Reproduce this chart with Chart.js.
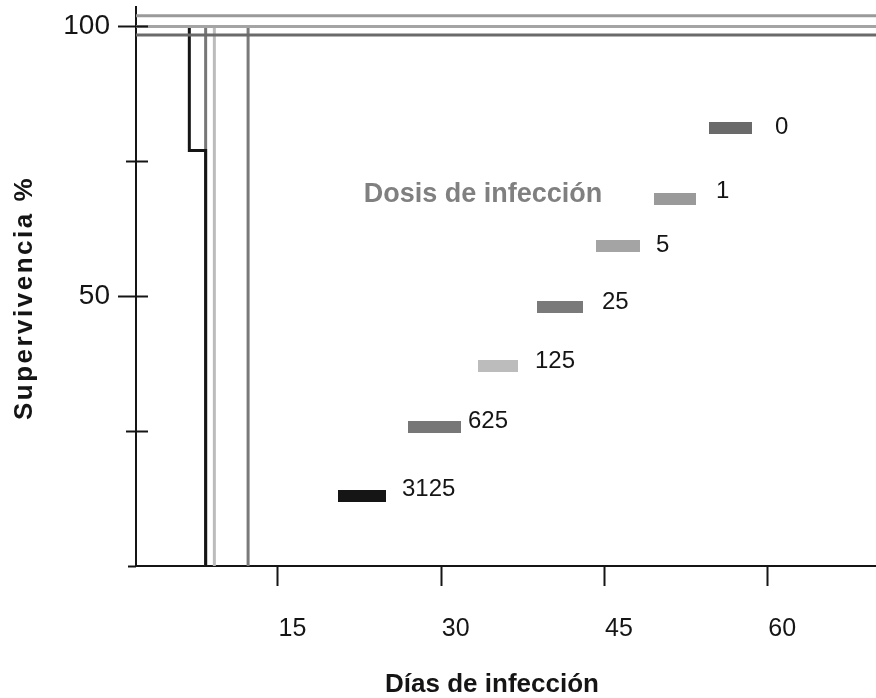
<!DOCTYPE html>
<html>
<head>
<meta charset="utf-8">
<script src="https://cdn.jsdelivr.net/npm/chart.js@4/dist/chart.umd.min.js"></script>
<style>
  html, body { margin: 0; padding: 0; background: #ffffff; }
  #wrap { width: 876px; height: 698px; position: relative; }
</style>
</head>
<body>
<div id="wrap"><canvas id="c" width="876" height="698"></canvas></div>
<script>
// Dosis de infección de cada grupo
const dosis = ['0', '1', '5', '25', '125', '625', '3125'];

// Curvas de supervivencia (día del cambio, % de supervivencia)
const dias0 = [0, 70];          const sup0 = [98.4, 98.4];
const dias1 = [0, 70];          const sup1 = [102, 102];
const dias5 = [0, 70];          const sup5 = [100, 100];
const dias25 = [0, 12.3];       const sup25 = [100, 0];
const dias125 = [0, 9.2];       const sup125 = [100, 0];
const dias625 = [0, 8.4];       const sup625 = [100, 0];
const dias3125 = [0, 6.9, 8.4]; const sup3125 = [100, 77, 0];

// Marcas de los ejes
const xTicks = [15, 30, 45, 60];
const yTicks = [0, 25, 50, 75, 100];
const yLabels = [50, 100];

const FONT = "'Liberation Sans', Arial, sans-serif";
const colores = ['#6a6a6a', '#9a9a9a', '#a4a4a4', '#7a7a7a', '#bcbcbc', '#777777', '#151515'];
const series = [
  [dias0, sup0], [dias1, sup1], [dias5, sup5], [dias25, sup25],
  [dias125, sup125], [dias625, sup625], [dias3125, sup3125]
];
// orden de dibujo: las curvas planas encima, luego la negra
const ordenDibujo = [2, 0, 1, 6, 5, 4, 3];

// Posición de cada muestra de la leyenda escalonada
const leyendaPos = [
  { bx: 709, by: 128, bw: 43, lx: 775, ly: 125 },
  { bx: 654, by: 199, bw: 42, lx: 716, ly: 189 },
  { bx: 596, by: 246, bw: 44, lx: 656, ly: 243 },
  { bx: 537, by: 307, bw: 46, lx: 602, ly: 300 },
  { bx: 478, by: 366, bw: 40, lx: 535, ly: 359 },
  { bx: 408, by: 427, bw: 53, lx: 468, ly: 419 },
  { bx: 338, by: 496, bw: 48, lx: 402, ly: 487 }
];

const datasets = series.map((s, i) => ({
  label: dosis[i],
  data: s[0].map((d, k) => ({ x: d, y: s[1][k] })),
  stepped: true,
  borderColor: colores[i],
  backgroundColor: colores[i],
  borderWidth: 3,
  pointRadius: 0,
  fill: false,
  order: ordenDibujo[i]
}));

const decoracion = {
  id: 'decoracion',
  afterDraw(chart) {
    const ctx = chart.ctx;
    const xs = chart.scales.x, ys = chart.scales.y;
    const left = chart.chartArea.left, bottom = chart.chartArea.bottom;
    ctx.save();
    ctx.strokeStyle = '#151515';
    ctx.lineWidth = 2;
    // marcas del eje Y, cruzando el eje
    yTicks.forEach(v => {
      const y = Math.round(ys.getPixelForValue(v)) + 0.5;
      const mayor = yLabels.includes(v);
      const fuera = v === 0 ? 8 : (mayor ? 18 : 10);
      const dentro = v === 0 ? 0 : 12;
      ctx.beginPath();
      ctx.moveTo(left - fuera, y);
      ctx.lineTo(left + dentro, y);
      ctx.stroke();
    });
    // marcas del eje X, hacia abajo
    xTicks.forEach(v => {
      const x = Math.round(xs.getPixelForValue(v)) + 0.5;
      ctx.beginPath();
      ctx.moveTo(x, bottom);
      ctx.lineTo(x, bottom + 20);
      ctx.stroke();
    });

    // leyenda escalonada
    ctx.fillStyle = '#808080';
    ctx.font = 'bold 27px ' + FONT;
    ctx.textAlign = 'center';
    ctx.textBaseline = 'alphabetic';
    ctx.fillText('Dosis de infección', 483, 202);
    dosis.forEach((d, i) => {
      const p = leyendaPos[i];
      ctx.fillStyle = colores[i];
      ctx.fillRect(p.bx, p.by - 6, p.bw, 12);
      ctx.fillStyle = '#151515';
      ctx.font = '24px ' + FONT;
      ctx.textAlign = 'left';
      ctx.fillText(d, p.lx, p.ly + 9);
    });

    // títulos de los ejes
    ctx.fillStyle = '#151515';
    ctx.font = 'bold 26px ' + FONT;
    ctx.textAlign = 'center';
    ctx.fillText('Días de infección', 492, 692);
    ctx.save();
    ctx.translate(32, 298);
    ctx.rotate(-Math.PI / 2);
    ctx.font = 'bold 26px ' + FONT;
    ctx.letterSpacing = '2.5px';
    ctx.fillText('Supervivencia %', 0, 0);
    ctx.restore();
    ctx.restore();
  }
};

new Chart(document.getElementById('c'), {
  type: 'line',
  data: { datasets },
  plugins: [decoracion],
  options: {
    responsive: false,
    animation: false,
    devicePixelRatio: 1,
    layout: { padding: { top: 7, right: 0, left: 0, bottom: 0 } },
    plugins: { legend: { display: false }, tooltip: { enabled: false } },
    scales: {
      x: {
        type: 'linear',
        min: 2,
        max: 70,
        afterBuildTicks: s => { s.ticks = xTicks.map(v => ({ value: v })); },
        afterFit: s => { s.height = 132; s.paddingLeft = 0; s.paddingRight = 0; },
        grid: { display: false, drawTicks: false },
        border: { display: true, color: '#151515', width: 2 },
        ticks: {
          padding: 48,
          labelOffset: 15,
          color: '#151515',
          maxRotation: 0,
          autoSkip: false,
          font: { family: FONT, size: 25 }
        }
      },
      y: {
        type: 'linear',
        min: 0,
        max: 103.6,
        afterBuildTicks: s => { s.ticks = yTicks.map(v => ({ value: v })); },
        afterFit: s => { s.width = 136; s.paddingTop = 0; s.paddingBottom = 0; },
        grid: { display: false, drawTicks: false },
        border: { display: true, color: '#151515', width: 2 },
        ticks: {
          padding: 26,
          color: '#151515',
          autoSkip: false,
          callback: v => (yLabels.includes(v) ? String(v) : ''),
          font: { family: FONT, size: 28 }
        }
      }
    }
  }
});
</script>
</body>
</html>
